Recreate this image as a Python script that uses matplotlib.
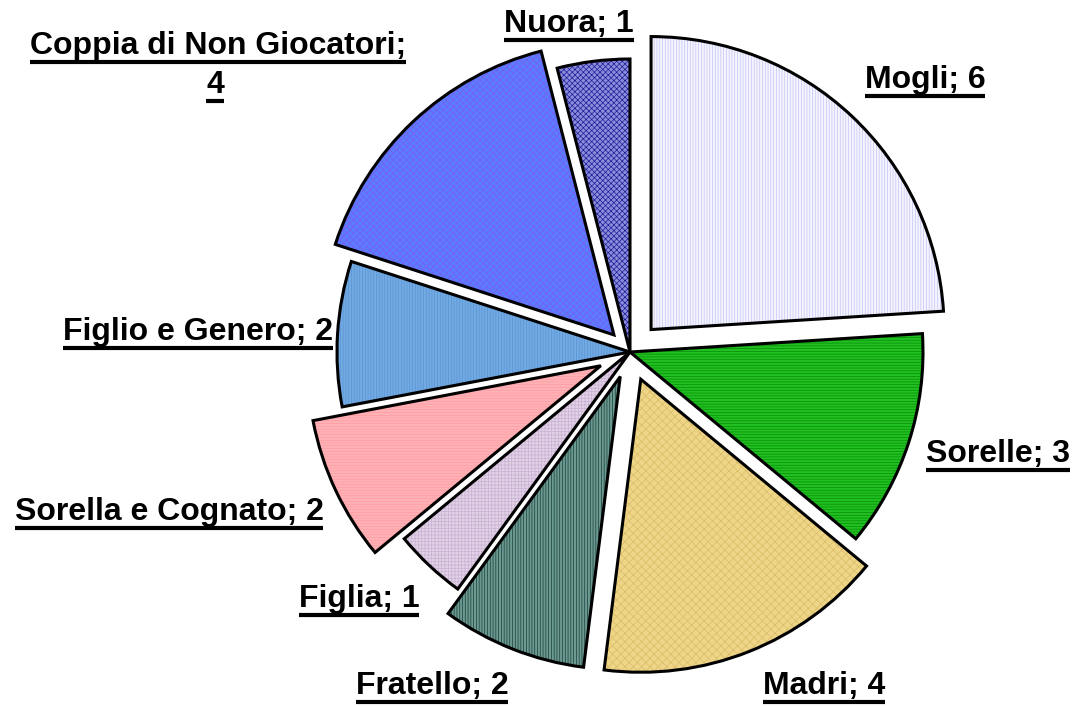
import matplotlib
matplotlib.use("Agg")
import matplotlib.pyplot as plt
from matplotlib.patches import Wedge
from matplotlib.lines import Line2D

categories = ["Mogli", "Sorelle", "Madri", "Fratello", "Figlia",
              "Sorella e Cognato", "Figlio e Genero",
              "Coppia di Non Giocatori", "Nuora"]
values = [6, 3, 4, 2, 1, 2, 2, 4, 1]
explode = [0.105, 0.0, 0.10, 0.09, 0.0, 0.11, 0.0, 0.08, 0.0]

faces = ["#f4f4ff", "#20c020", "#eed587", "#6a9a92", "#e2d0e6",
         "#ffb2b6", "#72abe3", "#5a7cff", "#8c8cdc"]
hatch_cols = ["#c4c4f4", "#0a8a0a", "#d8bc68", "#1c3a36", "#c8b2d2",
              "#ff9aa0", "#5a92d2", "#7a5cf0", "#1e1e96"]
hatches = ["|" * 6, "-" * 6, "x" * 4, "|" * 6, "+" * 5,
           "-" * 6, "|" * 6, "x" * 5, "x" * 6]

plt.rcParams['hatch.linewidth'] = 0.5

fig = plt.figure(figsize=(10.76, 7.06), dpi=100)
ax = fig.add_axes([0, 0, 1, 1])

R = 293
C = (630, 354)
wedges, _ = ax.pie(values, explode=[e * R for e in explode], colors=faces,
                   startangle=90, counterclock=False, radius=R, center=C,
                   frame=True,
                   wedgeprops=dict(edgecolor='none', linewidth=0))
ax.set_xlim(0, 1076)
ax.set_ylim(0, 706)
ax.set_aspect('equal')
ax.axis('off')

for w, hc, h in zip(wedges, hatch_cols, hatches):
    hw = Wedge(w.center, w.r, w.theta1, w.theta2, fill=False, hatch=h,
               edgecolor=hc, linewidth=0, zorder=w.get_zorder() + 0.1)
    ax.add_patch(hw)
    ow = Wedge(w.center, w.r, w.theta1, w.theta2, fill=False,
               edgecolor='black', linewidth=2.2, joinstyle='miter',
               zorder=w.get_zorder() + 0.2)
    ax.add_patch(ow)

# labels: (text, x_center_px, y_center_px_from_top)
label_texts = ["Nuora; 1", "Mogli; 6", "Coppia di Non Giocatori;", "4",
               "Figlio e Genero; 2", "Sorelle; 3", "Sorella e Cognato; 2",
               "Figlia; 1", "Fratello; 2", "Madri; 4"]
label_pos = [(569, 24), (925, 80), (218, 46), (215, 85),
             (198, 332), (998, 454), (169, 512),
             (359, 599), (432, 686), (824, 686)]

texts = []
for s, (x, y) in zip(label_texts, label_pos):
    t = ax.text(x, 706 - y, s, ha='center', va='center',
                fontsize=23, fontweight='bold', family='Liberation Sans',
                color='black')
    texts.append(t)

fig.canvas.draw()
renderer = fig.canvas.get_renderer()
inv = ax.transData.inverted()
for t in texts:
    bb = t.get_window_extent(renderer)
    (x0, y0), (x1, y1) = inv.transform([(bb.x0, bb.y0), (bb.x1, bb.y1)])
    yu = y0 - 1
    ax.add_line(Line2D([x0, x1], [yu, yu], color='black', linewidth=3.0,
                       solid_capstyle='butt'))

fig.savefig("out.png", dpi=100)
